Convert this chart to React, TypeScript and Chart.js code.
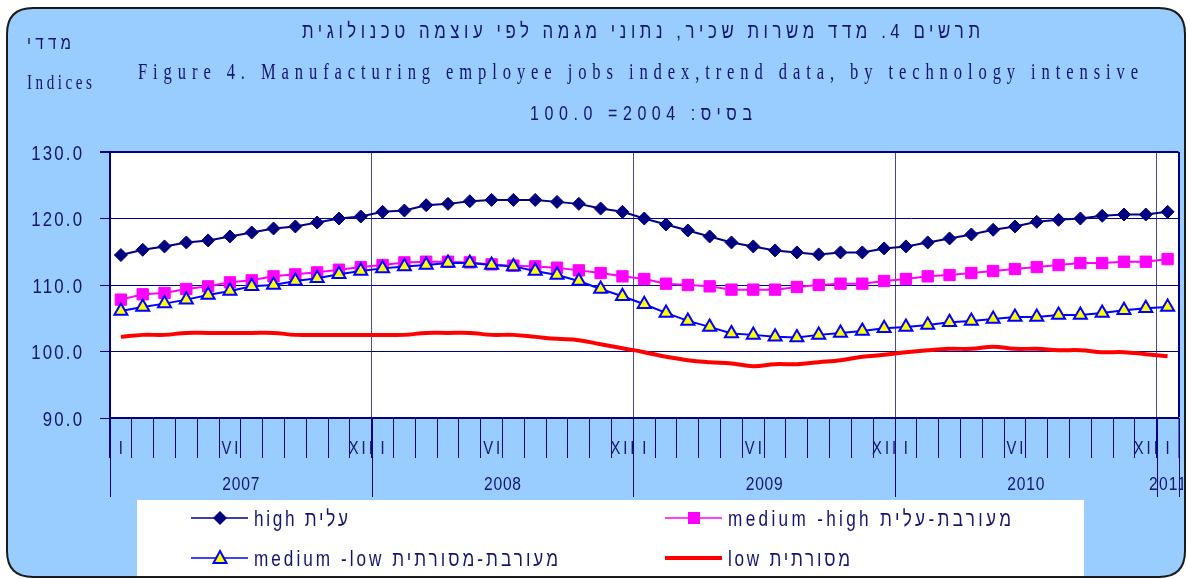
import React, { useEffect, useRef } from 'react';
import { Chart, registerables } from 'chart.js';

Chart.register(...registerables);

// ---------- data ----------
const monthMarks = ['I', '', '', '', '', 'VI', '', '', '', '', '', 'XII'];
const years = ['2007', '2008', '2009', '2010', '2011'];
const yTicks = [90, 100, 110, 120, 130];

const seriesNames = [
  'high עלית',
  'medium -high מעורבת-עלית',
  'medium -low מעורבת-מסורתית',
  'low מסורתית',
];

const high = [
  114.5, 115.3, 115.8, 116.4, 116.7, 117.3, 117.9, 118.5, 118.8, 119.4, 120.0, 120.3,
  121.0, 121.2, 122.0, 122.2, 122.6, 122.8, 122.8, 122.8, 122.5, 122.2, 121.5, 121.0,
  120.0, 119.1, 118.2, 117.3, 116.4, 115.8, 115.2, 114.9, 114.6, 114.9, 114.9, 115.5,
  115.8, 116.4, 117.0, 117.6, 118.3, 118.8, 119.5, 119.8, 120.0, 120.4, 120.6, 120.6,
  121.0,
];
const mediumHigh = [
  107.8, 108.6, 108.8, 109.4, 109.8, 110.4, 110.7, 111.3, 111.6, 111.9, 112.3, 112.7,
  113.0, 113.4, 113.5, 113.5, 113.4, 113.1, 112.9, 112.8, 112.6, 112.2, 111.8, 111.3,
  110.9, 110.2, 110.0, 109.8, 109.3, 109.3, 109.3, 109.7, 110.0, 110.2, 110.2, 110.6,
  110.9, 111.3, 111.5, 111.8, 112.1, 112.4, 112.7, 113.0, 113.3, 113.3, 113.5, 113.5,
  113.9,
];
const mediumLow = [
  106.1, 106.7, 107.2, 107.8, 108.5, 109.1, 109.8, 110.0, 110.6, 111.0, 111.6, 112.1,
  112.5, 112.8, 113.0, 113.3, 113.3, 113.0, 112.8, 112.1, 111.5, 110.6, 109.4, 108.3,
  107.1, 105.8, 104.6, 103.7, 102.7, 102.5, 102.2, 102.1, 102.5, 102.8, 103.1, 103.5,
  103.7, 104.0, 104.4, 104.6, 104.9, 105.2, 105.2, 105.5, 105.5, 105.8, 106.2, 106.5,
  106.7,
];
const low = [
  102.2, 102.5, 102.5, 102.8, 102.8, 102.8, 102.8, 102.8, 102.5, 102.5, 102.5, 102.5,
  102.5, 102.5, 102.8, 102.8, 102.8, 102.5, 102.5, 102.2, 101.9, 101.7, 101.1, 100.5,
  99.9, 99.2, 98.7, 98.4, 98.2, 97.8, 98.1, 98.1, 98.4, 98.7, 99.2, 99.5,
  99.9, 100.2, 100.4, 100.4, 100.7, 100.4, 100.4, 100.2, 100.2, 99.9, 99.9, 99.6,
  99.3,
];

const titleHe = 'תרשים 4. מדד משרות שכיר, נתוני מגמה לפי עוצמה טכנולוגית';
const titleEn = 'Figure 4. Manufacturing employee jobs index,trend data, by technology intensive';
const baseText = 'בסיס: 2004= 100.0';
const axisHe = 'מדדי';
const axisEn = 'Indices';

// category labels built from the arrays above (Jan 2007 .. Jan 2011)
const labels: string[] = [];
years.forEach((y, yi) => {
  monthMarks.forEach((_, mi) => {
    if (yi < years.length - 1 || mi === 0) labels.push(`${y}-${mi + 1}`);
  });
});

// ---------- styles ----------
const NAVY = '#000080';
const TEXT = '#14146e';
const BG = '#99CCFF';
const SANS = '"Liberation Sans", Arial, sans-serif';
const SERIF = '"Liberation Serif", "Times New Roman", serif';

type TextOpts = {
  width?: number;
  spacing?: number;
  align: 'left' | 'center' | 'right';
  size: number;
  color: string;
  dir?: 'ltr' | 'rtl';
  sx?: number;
  family?: string;
};

function spaced(ctx: CanvasRenderingContext2D, text: string, x: number, y: number, opts: TextOpts) {
  const sx = opts.sx ?? 0.8;
  ctx.save();
  ctx.font = `${opts.size}px ${opts.family || SANS}`;
  (ctx as any).direction = opts.dir || 'ltr';
  (ctx as any).letterSpacing = '0px';
  const w = ctx.measureText(text).width * sx;
  const n = Array.from(text).length;
  let sp = opts.spacing ?? 0;
  let total = w + sp * (n - 1);
  if (opts.width !== undefined) {
    sp = n > 1 ? Math.max(0, (opts.width - w) / (n - 1)) : 0;
    total = opts.width;
  }
  (ctx as any).letterSpacing = `${sp / sx}px`;
  const left = opts.align === 'left' ? x : opts.align === 'center' ? x - total / 2 : x - total;
  ctx.textAlign = 'left';
  ctx.textBaseline = 'alphabetic';
  ctx.fillStyle = opts.color;
  ctx.translate(left, y);
  ctx.scale(sx, 1);
  ctx.fillText(text, 0, 0);
  ctx.restore();
}

function roundRectPath(ctx: CanvasRenderingContext2D, x: number, y: number, w: number, h: number, r: number) {
  ctx.beginPath();
  ctx.moveTo(x + r, y);
  ctx.lineTo(x + w - r, y);
  ctx.quadraticCurveTo(x + w, y, x + w, y + r);
  ctx.lineTo(x + w, y + h - r);
  ctx.quadraticCurveTo(x + w, y + h, x + w - r, y + h);
  ctx.lineTo(x + r, y + h);
  ctx.quadraticCurveTo(x, y + h, x, y + h - r);
  ctx.lineTo(x, y + r);
  ctx.quadraticCurveTo(x, y, x + r, y);
  ctx.closePath();
}

const BOX = { x: 7, y: 8, w: 1178, h: 569, r: 26 };
const LEGEND_BOX = { x: 137, y: 500, w: 947, h: 77 };

const framePlugin = {
  id: 'frame',
  beforeDraw(chart: any) {
    const { ctx, chartArea: ca } = chart;
    ctx.save();
    roundRectPath(ctx, BOX.x, BOX.y, BOX.w, BOX.h, BOX.r);
    ctx.fillStyle = BG;
    ctx.fill();
    ctx.fillStyle = '#ffffff';
    ctx.fillRect(ca.left, ca.top, ca.right - ca.left, ca.bottom - ca.top);
    ctx.fillRect(LEGEND_BOX.x, LEGEND_BOX.y, LEGEND_BOX.w, LEGEND_BOX.h);
    ctx.restore();
  },
  afterDraw(chart: any) {
    const { ctx, chartArea: ca } = chart;
    const xs = chart.scales.x;
    const ys = chart.scales.y;
    const n = labels.length;

    // titles
    spaced(ctx, titleHe, 641, 38, { width: 678, align: 'center', size: 21, color: TEXT, dir: 'rtl', sx: 0.8 });
    spaced(ctx, titleEn, 638, 79, { width: 1000, align: 'center', size: 23, color: TEXT, family: SERIF, sx: 0.72 });
    spaced(ctx, baseText, 641, 120, { width: 222, align: 'center', size: 20, color: TEXT, dir: 'rtl', sx: 0.8 });
    spaced(ctx, axisHe, 49, 49, { width: 44, align: 'center', size: 19, color: TEXT, dir: 'rtl', sx: 0.8 });
    spaced(ctx, axisEn, 27, 89, { width: 65, align: 'left', size: 21, color: TEXT, family: SERIF, sx: 0.72 });

    // y tick labels
    yTicks.forEach((v) => {
      const py = ys.getPixelForValue(v);
      spaced(ctx, v.toFixed(1), 82, py + 7.5, { spacing: 2.2, align: 'right', size: 21, color: TEXT, sx: 0.8 });
    });

    // x axis: boundaries
    const px = (i: number) => xs.getPixelForValue(i);
    const boundary = (k: number) => (k <= 0 ? ca.left : k >= n ? ca.right : (px(k - 1) + px(k)) / 2);
    ctx.save();
    ctx.strokeStyle = NAVY;
    ctx.lineWidth = 1;
    [0, 12, 24, 36, 48, n].forEach((k) => {
      const bx = Math.round(boundary(k)) + 0.5;
      ctx.beginPath();
      ctx.moveTo(bx, ca.bottom);
      ctx.lineTo(bx, 497);
      ctx.stroke();
    });
    ctx.restore();

    // month marks
    for (let i = 0; i < n; i++) {
      const m = monthMarks[i % 12];
      if (m) spaced(ctx, m, px(i), 454, { spacing: 3, align: 'center', size: 18, color: TEXT, sx: 0.82 });
    }
    // year labels
    ctx.save();
    ctx.beginPath();
    ctx.rect(BOX.x, BOX.y, BOX.w - 2, BOX.h);
    ctx.clip();
    years.forEach((y, yi) => {
      const a = boundary(yi * 12);
      const b = boundary(Math.min(yi * 12 + 12, n));
      spaced(ctx, y, (a + b) / 2, 490, { width: 37, align: 'center', size: 19, color: TEXT, sx: 0.82 });
    });
    ctx.restore();

    // legend
    const items = [
      { name: seriesNames[0], lx: 191, ly: 518, color: NAVY, marker: 'diamond', lw: 1.5, tw: 94 },
      { name: seriesNames[1], lx: 665, ly: 518, color: '#FF00FF', marker: 'square', lw: 1.5, tw: 283 },
      { name: seriesNames[2], lx: 191, ly: 558, color: '#0000FF', marker: 'triangle', lw: 1.5, tw: 304 },
      { name: seriesNames[3], lx: 665, ly: 558, color: '#FF0000', marker: '', lw: 4, tw: 122 },
    ];
    items.forEach((it) => {
      ctx.save();
      ctx.strokeStyle = it.color;
      ctx.lineWidth = it.lw;
      ctx.beginPath();
      ctx.moveTo(it.lx, it.ly);
      ctx.lineTo(it.lx + 57, it.ly);
      ctx.stroke();
      const mx = it.lx + 29;
      const my = it.ly;
      if (it.marker === 'diamond') {
        ctx.fillStyle = NAVY;
        ctx.beginPath();
        ctx.moveTo(mx - 7, my);
        ctx.lineTo(mx, my - 7);
        ctx.lineTo(mx + 7, my);
        ctx.lineTo(mx, my + 7);
        ctx.closePath();
        ctx.fill();
      } else if (it.marker === 'square') {
        ctx.fillStyle = '#FF00FF';
        ctx.fillRect(mx - 6, my - 6, 12, 12);
      } else if (it.marker === 'triangle') {
        ctx.fillStyle = '#FFFF00';
        ctx.strokeStyle = '#0000FF';
        ctx.lineWidth = 2;
        ctx.beginPath();
        ctx.moveTo(mx, my - 7);
        ctx.lineTo(mx + 6.5, my + 5);
        ctx.lineTo(mx - 6.5, my + 5);
        ctx.closePath();
        ctx.fill();
        ctx.stroke();
      }
      ctx.restore();
      spaced(ctx, it.name, it.lx + 63, it.ly + 8, { width: it.tw, align: 'left', size: 22, color: TEXT, sx: 0.78 });
    });

    // outer border
    ctx.save();
    roundRectPath(ctx, BOX.x, BOX.y, BOX.w, BOX.h, BOX.r);
    ctx.strokeStyle = '#1a1a1a';
    ctx.lineWidth = 2;
    ctx.stroke();
    ctx.restore();
  },
};

export default function App() {
  const ref = useRef<HTMLCanvasElement>(null);

  useEffect(() => {
    document.body.style.margin = '0';
    const canvas = ref.current;
    if (!canvas) return;
    const chart = new Chart(canvas, {
      type: 'line',
      data: {
        labels,
        datasets: [
          {
            label: seriesNames[0],
            data: high,
            borderColor: NAVY,
            backgroundColor: NAVY,
            borderWidth: 2,
            pointStyle: 'rectRot',
            pointRadius: 6.5,
            pointBorderWidth: 1,
            pointBorderColor: NAVY,
            pointBackgroundColor: NAVY,
            tension: 0,
            order: 0,
          },
          {
            label: seriesNames[1],
            data: mediumHigh,
            borderColor: '#FF00FF',
            backgroundColor: '#FF00FF',
            borderWidth: 2,
            pointStyle: 'rect',
            pointRadius: 8,
            pointBorderWidth: 1,
            pointBorderColor: '#FF00FF',
            pointBackgroundColor: '#FF00FF',
            tension: 0,
            order: 2,
          },
          {
            label: seriesNames[2],
            data: mediumLow,
            borderColor: '#0000FF',
            backgroundColor: '#FFFF00',
            borderWidth: 2,
            pointStyle: 'triangle',
            pointRadius: 7.5,
            pointBorderWidth: 2,
            pointBorderColor: '#0000FF',
            pointBackgroundColor: '#FFFF00',
            tension: 0,
            order: 1,
          },
          {
            label: seriesNames[3],
            data: low,
            borderColor: '#FF0000',
            backgroundColor: '#FF0000',
            borderWidth: 4,
            pointRadius: 0,
            tension: 0.4,
            order: 3,
          },
        ],
      },
      options: {
        responsive: false,
        devicePixelRatio: 1,
        animation: false,
        events: [],
        layout: { padding: { left: 0, right: 7, top: 152, bottom: 0 } },
        plugins: {
          legend: { display: false },
          title: { display: false },
          tooltip: { enabled: false },
        },
        scales: {
          x: {
            type: 'category',
            offset: true,
            grid: {
              offset: true,
              drawOnChartArea: true,
              color: (c: any) => {
                if (c.type !== 'tick') return NAVY;
                if (c.index === 0) return NAVY;
                return c.index % 12 === 0 ? '#4a4a96' : 'rgba(0,0,0,0)';
              },
              lineWidth: (c: any) => (c.type !== 'tick' ? 2 : 1),
              tickColor: NAVY,
              tickWidth: 1,
              tickLength: 40,
            },
            border: { display: true, color: NAVY, width: 2 },
            ticks: { display: false, autoSkip: false },
            afterFit: (s: any) => {
              s.height = 579 - 418;
            },
          },
          y: {
            min: 90,
            max: 130,
            ticks: { display: false, stepSize: 10 },
            grid: {
              color: NAVY,
              lineWidth: (c: any) => (c.tick && c.tick.value === 130 ? 2 : 1),
              tickColor: NAVY,
              tickLength: 10,
            },
            border: { display: true, color: NAVY, width: 2 },
            afterFit: (s: any) => {
              s.width = 110;
            },
          },
        },
      },
      plugins: [framePlugin],
    });
    return () => chart.destroy();
  }, []);

  return (
    <div style={{ width: 1188, height: 579, position: 'relative' }}>
      <canvas ref={ref} width={1188} height={579} style={{ display: 'block', width: 1188, height: 579 }} />
    </div>
  );
}
